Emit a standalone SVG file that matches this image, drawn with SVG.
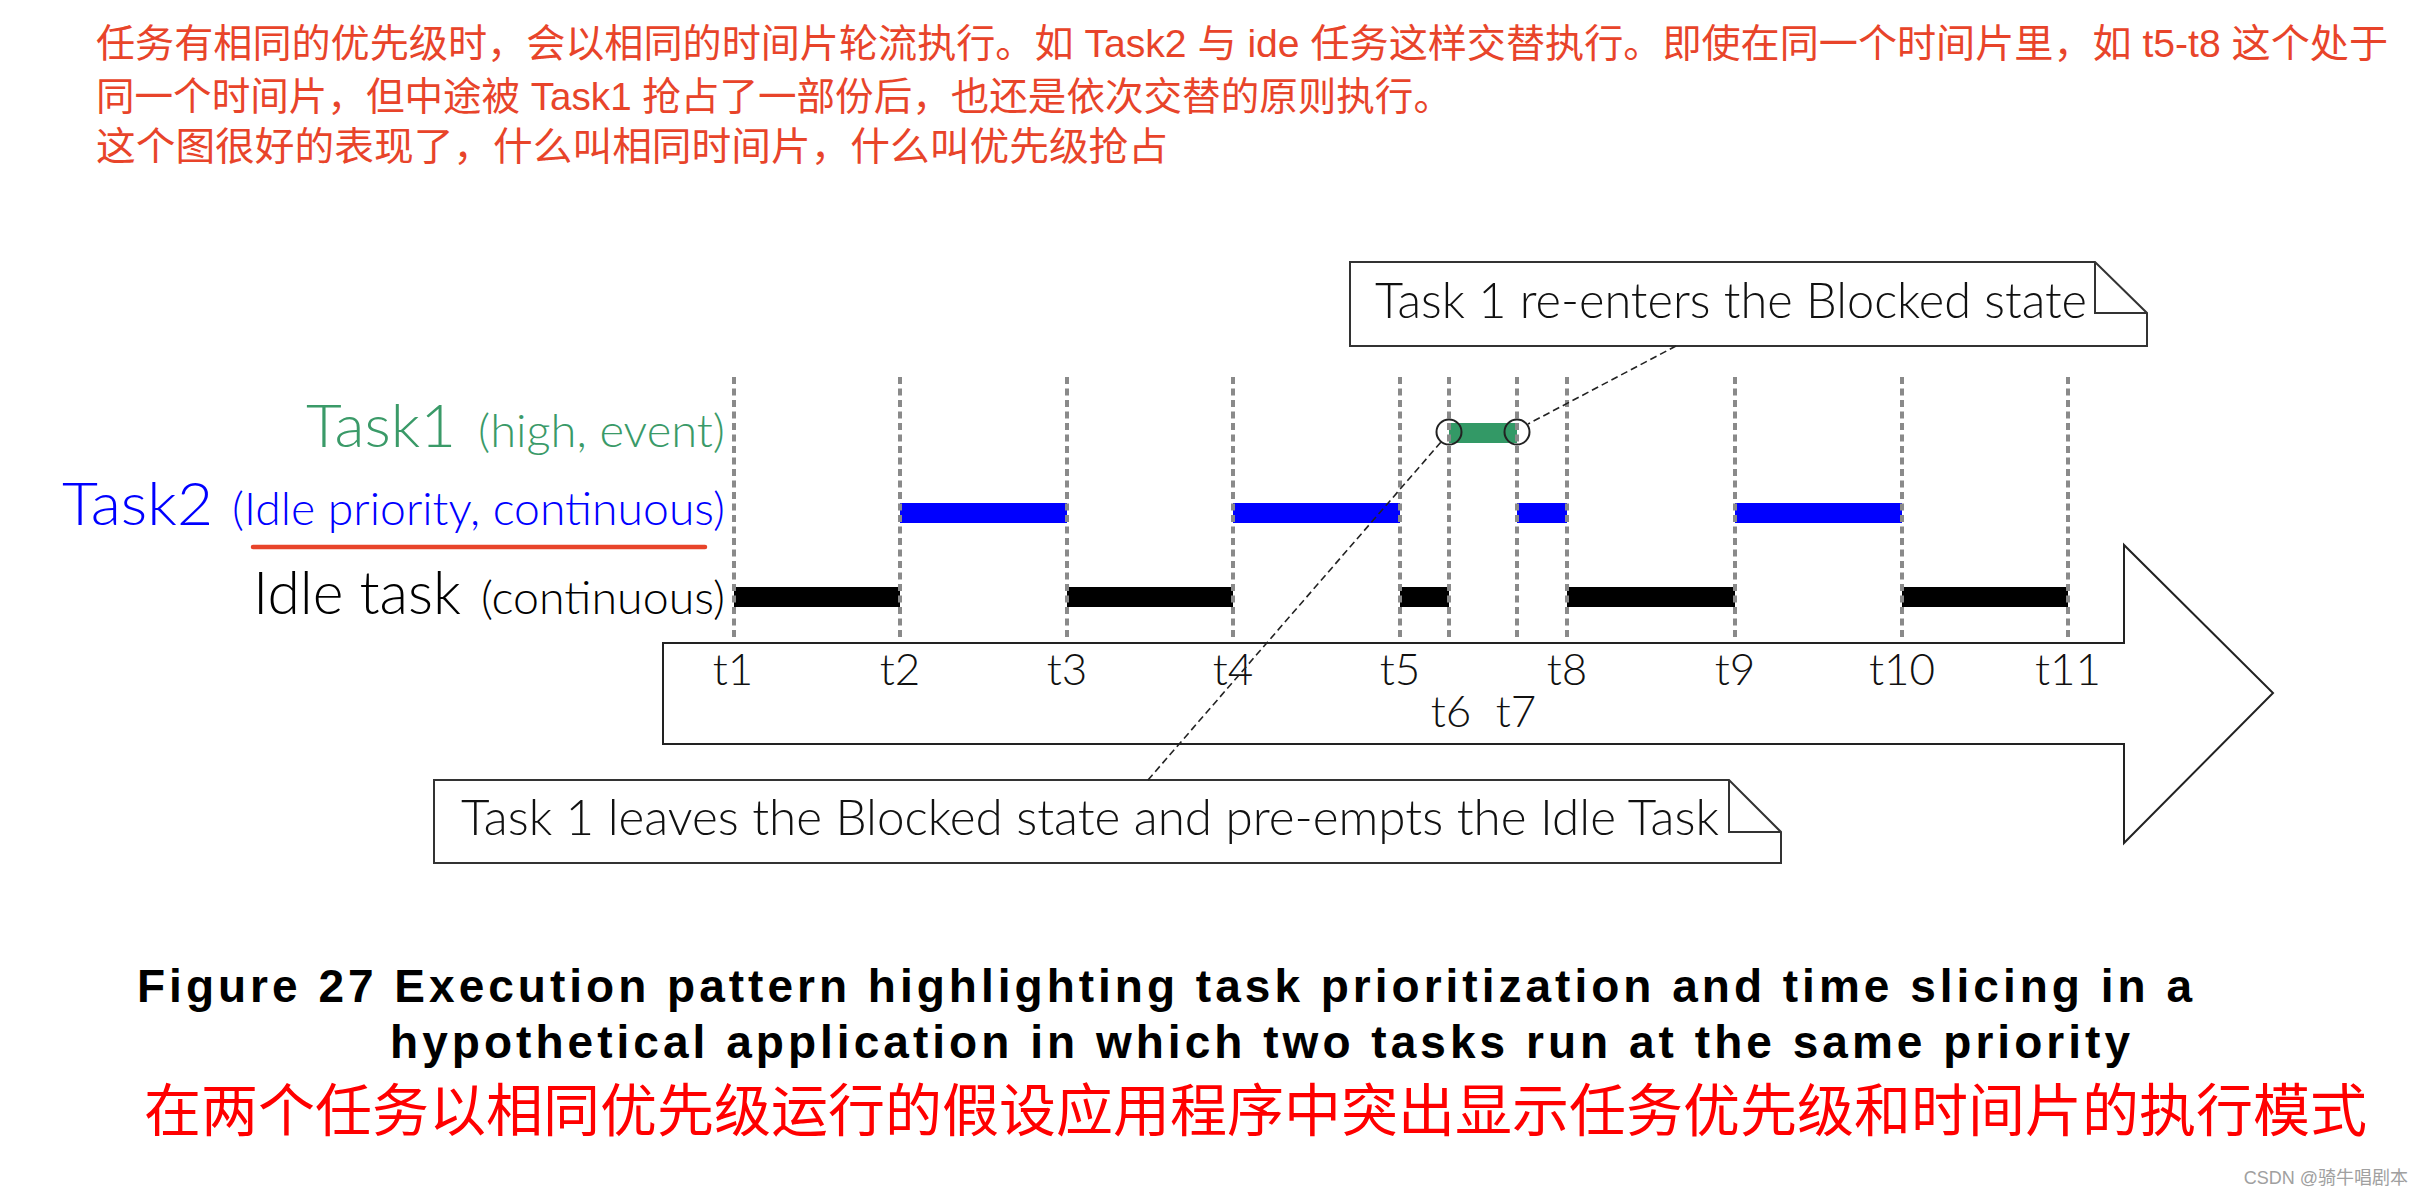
<svg xmlns="http://www.w3.org/2000/svg" width="2424" height="1198" viewBox="0 0 2424 1198">
<style>
.hdr{font-family:"Liberation Sans","Noto Sans CJK SC",sans-serif;font-size:39px;fill:#e8442a}
.lbl{font-family:Lato,"Liberation Sans",Arial,sans-serif;font-weight:300}
.big{font-size:60px}
.sm{font-size:45px}
.tl{font-family:Lato,"Liberation Sans",Arial,sans-serif;font-weight:300;font-size:44px;fill:#111;text-anchor:middle}
.note{fill:#fff;stroke:#333;stroke-width:2}
.fold{fill:none;stroke:#333;stroke-width:2}
.ntxt{font-family:Lato,"Liberation Sans",Arial,sans-serif;font-weight:300;font-size:50px;fill:#111}
.grid{stroke:#8a8a8a;stroke-width:4;stroke-dasharray:7 4.5}
.conn{stroke:#222;stroke-width:1.6;stroke-dasharray:7 4;fill:none}
.cap{font-family:"Liberation Sans",Arial,sans-serif;font-weight:bold;font-size:46px;fill:#000}
.cn{font-family:"Noto Sans CJK SC",sans-serif;font-size:57px;fill:#ff0000}
</style>

<g id="header">
<text class="hdr" x="96" y="57" textLength="2292" lengthAdjust="spacingAndGlyphs">任务有相同的优先级时，会以相同的时间片轮流执行。如 Task2 与 ide 任务这样交替执行。即使在同一个时间片里，如 t5-t8 这个处于</text>
<text class="hdr" x="96" y="110" textLength="1356" lengthAdjust="spacingAndGlyphs">同一个时间片，但中途被 Task1 抢占了一部份后，也还是依次交替的原则执行。</text>
<text class="hdr" x="96" y="160" textLength="1072" lengthAdjust="spacingAndGlyphs">这个图很好的表现了，什么叫相同时间片，什么叫优先级抢占</text>
</g>

<g id="time-arrow">
<polygon points="663,643 2124,643 2124,545 2273,693 2124,843 2124,744 663,744" fill="#fff" stroke="#222" stroke-width="2"/>
<text class="tl" x="733" y="685">t1</text>
<text class="tl" x="900" y="685">t2</text>
<text class="tl" x="1067" y="685">t3</text>
<text class="tl" x="1233" y="685">t4</text>
<text class="tl" x="1400" y="685">t5</text>
<text class="tl" x="1451" y="727">t6</text>
<text class="tl" x="1516" y="727">t7</text>
<text class="tl" x="1567" y="685">t8</text>
<text class="tl" x="1735" y="685">t9</text>
<text class="tl" x="1902" y="685">t10</text>
<text class="tl" x="2068" y="685">t11</text>
</g>

<g id="task-labels">
<text class="lbl big" x="306" y="447" fill="#3a9a68" textLength="150" lengthAdjust="spacingAndGlyphs">Task1</text>
<text class="lbl sm" x="478" y="447" fill="#3a9a68" textLength="247" lengthAdjust="spacingAndGlyphs">(high, event)</text>
<text class="lbl big" x="62" y="525" fill="#0000ff" textLength="151" lengthAdjust="spacingAndGlyphs">Task2</text>
<text class="lbl sm" x="232" y="525" fill="#0000ff" textLength="493" lengthAdjust="spacingAndGlyphs">(Idle priority, continuous)</text>
<text class="lbl big" x="253" y="614" fill="#000" textLength="208" lengthAdjust="spacingAndGlyphs">Idle task</text>
<text class="lbl sm" x="481" y="614" fill="#000" textLength="244" lengthAdjust="spacingAndGlyphs">(continuous)</text>
<line x1="253" y1="547" x2="705" y2="547" stroke="#e8442a" stroke-width="4.5" stroke-linecap="round"/>
</g>

<g id="bars">
<rect x="1449" y="423" width="68" height="20" fill="#339966"/>
<rect x="900" y="503" width="167" height="20" fill="#0000ff"/>
<rect x="1233" y="503" width="167" height="20" fill="#0000ff"/>
<rect x="1517" y="503" width="50" height="20" fill="#0000ff"/>
<rect x="1735" y="503" width="167" height="20" fill="#0000ff"/>
<rect x="734" y="587" width="166" height="20" fill="#000"/>
<rect x="1067" y="587" width="166" height="20" fill="#000"/>
<rect x="1400" y="587" width="49" height="20" fill="#000"/>
<rect x="1567" y="587" width="168" height="20" fill="#000"/>
<rect x="1902" y="587" width="166" height="20" fill="#000"/>
</g>

<g id="time-grid">
<line class="grid" x1="734" y1="377" x2="734" y2="640"/>
<line class="grid" x1="900" y1="377" x2="900" y2="640"/>
<line class="grid" x1="1067" y1="377" x2="1067" y2="640"/>
<line class="grid" x1="1233" y1="377" x2="1233" y2="640"/>
<line class="grid" x1="1400" y1="377" x2="1400" y2="640"/>
<line class="grid" x1="1449" y1="377" x2="1449" y2="640"/>
<line class="grid" x1="1517" y1="377" x2="1517" y2="640"/>
<line class="grid" x1="1567" y1="377" x2="1567" y2="640"/>
<line class="grid" x1="1735" y1="377" x2="1735" y2="640"/>
<line class="grid" x1="1902" y1="377" x2="1902" y2="640"/>
<line class="grid" x1="2068" y1="377" x2="2068" y2="640"/>
</g>

<g id="event-markers">
<circle cx="1449" cy="432" r="12.5" fill="none" stroke="#222" stroke-width="2"/>
<circle cx="1517" cy="432" r="12.5" fill="none" stroke="#222" stroke-width="2"/>
</g>

<g id="note-reenters">
<path class="note" d="M1350,262 H2095 L2147,313 V346 H1350 Z"/>
<path class="fold" d="M2095,262 V313 H2147"/>
<text class="ntxt" x="1375" y="318" textLength="712" lengthAdjust="spacingAndGlyphs">Task 1 re-enters the Blocked state</text>
</g>

<g id="note-leaves">
<path class="note" d="M434,780 H1729 L1781,832 V863 H434 Z"/>
<path class="fold" d="M1729,780 V832 H1781"/>
<text class="ntxt" x="461" y="835" textLength="1258" lengthAdjust="spacingAndGlyphs">Task 1 leaves the Blocked state and pre-empts the Idle Task</text>
</g>

<g id="connectors">
<line class="conn" x1="1148" y1="780" x2="1441" y2="442"/>
<line class="conn" x1="1676" y1="346" x2="1528" y2="424"/>
</g>

<g id="caption">
<text class="cap" x="137" y="1002" textLength="2055" lengthAdjust="spacing">Figure 27 Execution pattern highlighting task prioritization and time slicing in a</text>
<text class="cap" x="390" y="1058" textLength="1740" lengthAdjust="spacing">hypothetical application in which two tasks run at the same priority</text>
<text class="cn" x="144" y="1131" textLength="2223" lengthAdjust="spacingAndGlyphs">在两个任务以相同优先级运行的假设应用程序中突出显示任务优先级和时间片的执行模式</text>
</g>

<g id="watermark">
<text x="2408" y="1184" text-anchor="end" font-family="'Liberation Sans','Noto Sans CJK SC',sans-serif" font-size="18" fill="#a0a0a0">CSDN @骑牛唱剧本</text>
</g>
</svg>
